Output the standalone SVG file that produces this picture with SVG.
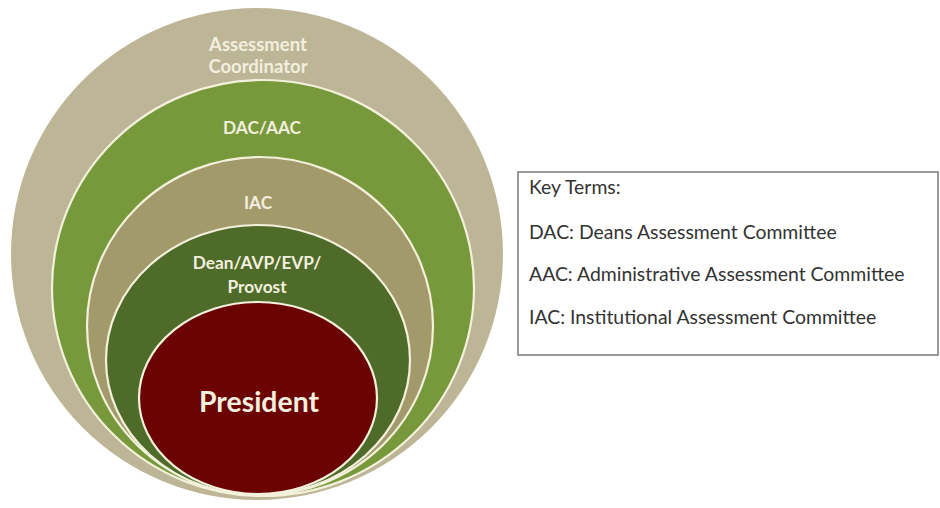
<svg xmlns="http://www.w3.org/2000/svg" width="940" height="508" viewBox="0 0 940 508">
<style>
.ring{stroke:#f3f1dc;stroke-width:2.2}
.lbl{font-family:Lato,"Open Sans","Liberation Sans",sans-serif;font-weight:bold;fill:#f2efdf;text-anchor:middle}
.key{font-family:Lato,"Open Sans","Liberation Sans",sans-serif;fill:#333333;font-size:19.4px}
</style>
<rect width="940" height="508" fill="#ffffff"/>
<g id="assessment-coordinator">
<ellipse cx="257" cy="254" rx="246" ry="246" fill="#bdb696"/>
<text class="lbl" x="258" y="51" font-size="18.5">Assessment</text>
<text class="lbl" x="258" y="73" font-size="18.5">Coordinator</text>
</g>
<g id="dac-aac">
<ellipse class="ring" cx="263" cy="288" rx="211" ry="208" fill="#77993b"/>
<text class="lbl" x="262" y="134" font-size="17.3">DAC/AAC</text>
</g>
<g id="iac">
<ellipse class="ring" cx="260" cy="326" rx="173" ry="169" fill="#a39a6b"/>
<text class="lbl" x="258" y="209" font-size="17.3">IAC</text>
</g>
<g id="dean-avp-evp-provost">
<ellipse class="ring" cx="258" cy="360" rx="152" ry="135" fill="#4f6b2a"/>
<text class="lbl" x="257" y="269" font-size="17.3">Dean/AVP/EVP/</text>
<text class="lbl" x="257" y="293" font-size="17.3">Provost</text>
</g>
<g id="president">
<ellipse class="ring" cx="258" cy="398" rx="119" ry="96" fill="#6b0303"/>
<text class="lbl" x="259" y="412" font-size="28.4">President</text>
</g>
<g id="key-terms">
<rect x="518" y="172" width="420" height="183" fill="#ffffff" stroke="#7a7a7a" stroke-width="1.5"/>
<text class="key" x="529" y="194">Key Terms:</text>
<text class="key" x="529" y="239">DAC: Deans Assessment Committee</text>
<text class="key" x="529" y="281">AAC: Administrative Assessment Committee</text>
<text class="key" x="529" y="324">IAC: Institutional Assessment Committee</text>
</g>
<g id="connectors"/>
</svg>
